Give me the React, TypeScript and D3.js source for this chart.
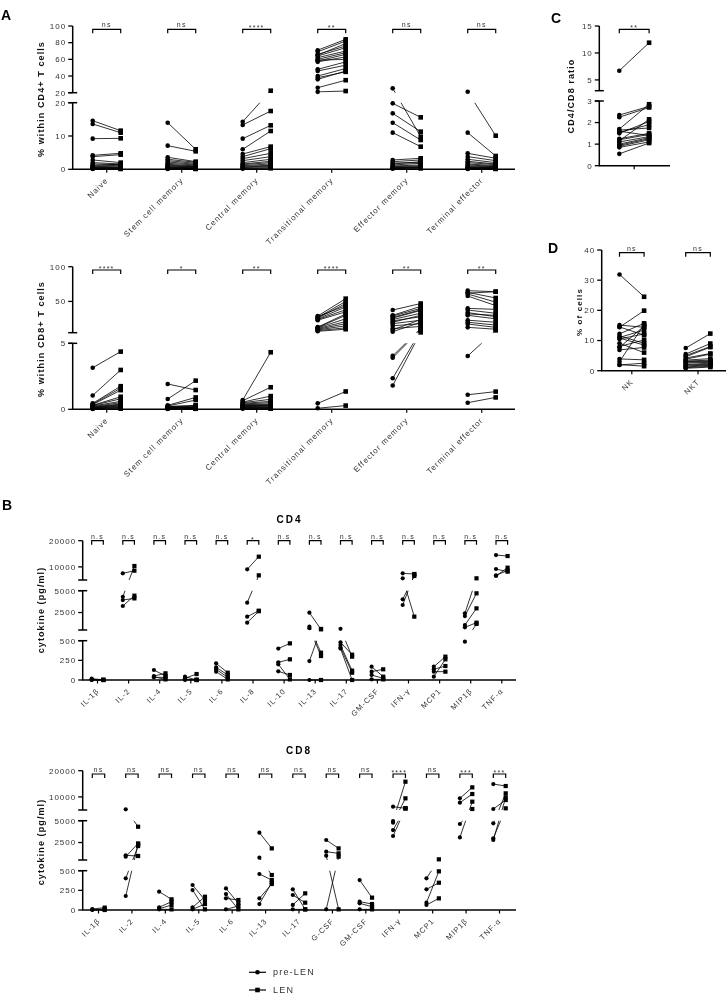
import React from 'react';
import * as d3 from 'd3';

const FONT = '"Liberation Sans", Arial, sans-serif';

// ---------- panel A : T cell subsets ----------
const subsets = ['Naive', 'Stem cell memory', 'Central memory', 'Transitional memory', 'Effector memory', 'Terminal effector'];
const cd4Sig = ['ns', 'ns', '****', '**', 'ns', 'ns'];
const cd8Sig = ['****', '*', '**', '****', '**', '**'];

const cd4Pre = [
  [14.6, 13.6, 9.2, 4.2, 3.8, 2.8, 2.0, 1.6, 1.2, 1.0, 0.8, 0.6, 0.5, 0.4, 0.3, 0.2, 0.1],
  [14.0, 7.1, 3.6, 3.0, 2.6, 2.2, 1.8, 1.5, 1.2, 1.0, 0.8, 0.6, 0.5, 0.4, 0.3, 0.2, 0.1],
  [14.3, 13.3, 9.2, 6.0, 4.6, 3.8, 3.2, 2.6, 2.0, 1.6, 1.4, 1.1, 0.9, 0.7, 0.5, 0.3, 0.2],
  [71, 69, 66, 64, 62, 60, 59, 57, 48, 46, 40, 38, 36, 26, 21, 58, 65],
  [25.2, 19.8, 16.8, 14.0, 11.0, 2.8, 2.3, 1.9, 1.6, 1.3, 1.0, 0.8, 0.6, 0.5, 0.4, 0.3, 0.2],
  [21.2, 11.0, 4.8, 3.8, 3.0, 2.4, 2.0, 1.6, 1.3, 1.0, 0.8, 0.6, 0.5, 0.4, 0.3, 0.2, 0.1],
];
const cd4Post = [
  [11.6, 11.0, 9.3, 4.8, 4.4, 2.0, 1.6, 1.4, 1.5, 1.2, 0.9, 0.6, 0.5, 0.4, 0.3, 0.2, 0.1],
  [6.0, 5.4, 2.3, 2.1, 1.8, 1.5, 1.3, 1.0, 0.9, 0.8, 0.7, 0.5, 0.4, 0.3, 0.3, 0.2, 0.1],
  [22.4, 17.5, 13.2, 11.5, 6.8, 6.2, 4.8, 3.8, 3.0, 2.4, 2.0, 1.6, 1.2, 1.0, 0.8, 0.5, 0.3],
  [84, 82, 76, 74, 70, 68, 60, 63, 57, 53, 49, 45, 46, 35, 22, 66, 79],
  [9.8, 15.6, 11.3, 8.8, 6.8, 3.3, 2.8, 2.0, 2.3, 1.8, 1.3, 1.0, 0.8, 0.6, 0.5, 0.4, 0.3],
  [10.1, 4.0, 3.3, 2.6, 2.0, 1.6, 1.4, 1.1, 0.9, 0.8, 0.6, 0.5, 0.4, 0.3, 0.2, 0.2, 0.1],
];
const cd8Pre = [
  [3.15, 1.05, 0.45, 0.4, 0.35, 0.3, 0.28, 0.25, 0.2, 0.18, 0.15, 0.12, 0.1, 0.08, 0.06, 0.05, 0.03],
  [1.92, 0.78, 0.3, 0.25, 0.22, 0.2, 0.18, 0.15, 0.12, 0.1, 0.1, 0.08, 0.07, 0.06, 0.05, 0.04, 0.03],
  [0.7, 0.65, 0.55, 0.5, 0.45, 0.4, 0.35, 0.3, 0.28, 0.25, 0.2, 0.18, 0.15, 0.12, 0.1, 0.08, 0.05],
  [29, 27, 26, 25, 24, 23, 13, 12.5, 12, 11, 10, 9, 8, 7, 0.45, 0.08, 28],
  [37.6, 30, 29, 26, 24, 22, 20, 18, 15, 11, 9, 6.5, 4.05, 3.9, 2.35, 1.8, 27],
  [65.5, 63, 60.7, 57.8, 40, 37.6, 34, 32, 30, 23, 20, 17.5, 12.7, 4.04, 1.1, 0.5, 62],
];
const cd8Post = [
  [4.37, 2.98, 1.75, 1.6, 1.45, 0.95, 0.8, 0.6, 0.5, 0.4, 0.35, 0.3, 0.25, 0.2, 0.15, 0.1, 0.05],
  [1.46, 2.17, 0.9, 0.7, 0.3, 0.25, 0.2, 0.18, 0.15, 0.12, 0.1, 0.1, 0.08, 0.07, 0.06, 0.05, 0.04],
  [4.32, 1.67, 1.0, 0.76, 0.6, 0.5, 0.4, 0.35, 0.3, 0.28, 0.25, 0.2, 0.15, 0.12, 0.1, 0.08, 0.05],
  [54, 50, 47, 42, 38, 35, 32, 30, 25, 21, 18, 15, 12, 10, 1.35, 0.28, 44],
  [47, 43, 40, 37, 33, 28, 30, 23, 18, 14, 24, 20, 11, 9.5, 8, 5.5, 38],
  [64, 55, 49, 44, 38.6, 33, 28, 30, 25, 20, 16, 12.7, 10, 8.4, 1.34, 0.9, 64],
];

// ---------- panel C : CD4/CD8 ratio ----------
const ratioPre = [[6.7, 2.35, 2.25, 1.7, 1.65, 1.55, 1.5, 1.25, 1.2, 1.15, 1.1, 1.0, 0.95, 0.9, 0.85, 0.55, 1.6]];
const ratioPost = [[11.9, 2.75, 2.7, 2.85, 1.75, 1.9, 2.05, 1.5, 1.45, 2.15, 1.35, 1.3, 1.25, 1.2, 1.1, 1.05, 1.4]];

// ---------- panel D : NK / NKT ----------
const nkCats = ['NK', 'NKT'];
const nkPre = [
  [31.9, 15.1, 14.4, 12.2, 11.5, 11.0, 10.5, 9.1, 8.0, 7.7, 6.9, 3.9, 3.0, 2.0, 1.9, 14.5, 10.8],
  [7.5, 5.5, 5.0, 4.6, 4.2, 3.8, 3.5, 3.2, 3.0, 2.8, 2.5, 2.0, 1.8, 1.5, 1.2, 1.0, 0.8],
];
const nkPost = [
  [24.5, 14.4, 19.9, 15.7, 9.1, 13.5, 12.2, 6.0, 10.2, 14.8, 7.7, 3.6, 15.3, 1.5, 2.5, 11.8, 8.5],
  [12.3, 9.0, 8.0, 7.8, 5.7, 5.5, 4.0, 3.5, 3.2, 3.0, 2.8, 2.5, 2.2, 2.0, 1.8, 1.5, 1.2],
];

// ---------- panel B : cytokines ----------
const cd4Cyto = ['IL-1β', 'IL-2', 'IL-4', 'IL-5', 'IL-6', 'IL-8', 'IL-10', 'IL-13', 'IL-17', 'GM-CSF', 'IFN-γ', 'MCP1', 'MIP1β', 'TNF-α'];
const cd4CytoSig = ['n.s', 'n.s', 'n.s', 'n.s', 'n.s', '*', 'n.s', 'n.s', 'n.s', 'n.s', 'n.s', 'n.s', 'n.s', 'n.s'];
const cd4CytoPre = [
  [17, 5, 2, 0], [7540, 4310, 3930, 3250], [127, 51, 34, 40], [42, 21, 8, 0], [212, 161, 136, 106],
  [9070, 3630, 2030, 1340], [400, 225, 200, 110], [2480, 880, 700, 241, 0], [631, 480, 445, 415, 400],
  [169, 106, 64, 8], [7540, 5640, 4010, 3360], [169, 136, 106, 42], [2410, 2100, 1070, 805, 487],
  [14530, 9190, 6530, 6800],
];
const cd4CytoPost = [
  [3, 0, 2, 0], [8560, 10340, 4120, 4430], [51, 85, 34, 8], [0, 76, 5, 0], [93, 64, 34, 8],
  [13900, 6780, 2710, 2650], [466, 263, 8, 64], [580, 347, 305, 620, 0], [297, 322, 119, 93, 0],
  [42, 136, 21, 8], [7290, 2030, 6530, 7100], [297, 178, 106, 263], [5640, 4700, 2980, 1340, 1200],
  [14150, 8180, 9700, 8600],
];

const cd8Cyto = ['IL-1β', 'IL-2', 'IL-4', 'IL-5', 'IL-6', 'IL-13', 'IL-17', 'G-CSF', 'GM-CSF', 'IFN-γ', 'MCP1', 'MIP1β', 'TNF-α'];
const cd8CytoSig = ['ns', 'ns', 'ns', 'ns', 'ns', 'ns', 'ns', 'ns', 'ns', '****', 'ns', '***', '***'];
const cd8CytoPre = [
  [12, 5, 0], [5250, 1030, 880, 403, 178], [233, 34, 15, 8], [318, 254, 34, 8], [275, 203, 148, 8],
  [3630, 767, 458, 148, 76], [263, 191, 64, 8], [2790, 1450, 1000, 8], [381, 106, 85, 8],
  [6270, 4960, 4770, 3930, 3250], [403, 263, 93, 64], [9450, 7800, 4620, 3090],
  [14900, 5380, 4700, 2980, 2790],
];
const cd8CytoPost = [
  [30, 10, 0], [4310, 960, 2400, 2100, 2300], [136, 106, 64, 8], [127, 8, 169, 76], [85, 8, 127, 51],
  [1830, 445, 381, 331, 350], [8, 93, 212, 8], [1830, 1260, 8, 880], [157, 76, 42, 8],
  [5640, 15800, 9450, 5700, 5600], [576, 347, 492, 148], [13640, 11100, 5380, 8180],
  [14150, 8810, 11360, 5640, 9800],
];

type Seg = { domain: [number, number]; range: [number, number]; ticks: number[] };

type PanelCfg = {
  id: string;
  segs: Seg[];
  axisX: number;
  axisEnd: number;
  cats: string[];
  catRange: [number, number];
  off: number;
  pre: number[][];
  post: number[][];
  sig: string[];
  bracketY: number;
  yLabel: string;
  yLabelX: number;
  yLabelY: number;
  yLabelFont: number;
  labelFont: number;
  showCatLabels: boolean;
  r: number;
  sq: number;
};

const cytoSegs = (top: number): Seg[] => [
  { domain: [0, 500], range: [top + 139.3, top + 100], ticks: [0, 250, 500] },
  { domain: [500, 5000], range: [top + 89.3, top + 50], ticks: [2500, 5000] },
  { domain: [5000, 20000], range: [top + 39.3, top], ticks: [10000, 20000] },
];

function Panel({ c }: { c: PanelCfg }) {
  const scales = c.segs.map(s => d3.scaleLinear().domain(s.domain).range(s.range));
  const y = (v: number) => {
    for (let i = 0; i < c.segs.length; i++) {
      if (v <= c.segs[i].domain[1] || i === c.segs.length - 1) return scales[i](v);
    }
    return 0;
  };
  const x = d3.scalePoint<string>().domain(c.cats).range(c.catRange);
  const axisY = c.segs[0].range[0];
  const n = c.segs.length;
  const tickFmt = d3.format('d');

  return (
    <g>
      <defs>
        <clipPath id={'clip-' + c.id}>
          {c.segs.map((s, i) => {
            const top = s.range[1] - (i === n - 1 ? 6 : 0);
            const bot = s.range[0] + (i === 0 ? 6 : 0);
            return <rect key={i} x={c.axisX} y={top} width={c.axisEnd - c.axisX} height={bot - top} />;
          })}
        </clipPath>
      </defs>

      {/* y axis segments */}
      {c.segs.map((s, i) => (
        <g key={'s' + i}>
          <line x1={c.axisX} x2={c.axisX} y1={s.range[0]} y2={s.range[1]} stroke="#000" strokeWidth={1.5} />
          {i > 0 && <line x1={c.axisX - 4.5} x2={c.axisX + 4.5} y1={s.range[0]} y2={s.range[0]} stroke="#000" strokeWidth={1.5} />}
          {i < n - 1 && <line x1={c.axisX - 4.5} x2={c.axisX + 4.5} y1={s.range[1]} y2={s.range[1]} stroke="#000" strokeWidth={1.5} />}
          {s.ticks.map(t => (
            <g key={t}>
              <line x1={c.axisX - 4.5} x2={c.axisX} y1={scales[i](t)} y2={scales[i](t)} stroke="#000" strokeWidth={1.3} />
              <text x={c.axisX - 6.5} y={scales[i](t)} dy="0.35em" textAnchor="end" fontSize={8}
                letterSpacing={1} fill="#333">{tickFmt(t)}</text>
            </g>
          ))}
        </g>
      ))}

      {/* x axis */}
      <line x1={c.axisX - 0.7} x2={c.axisEnd} y1={axisY} y2={axisY} stroke="#000" strokeWidth={1.5} />
      {c.cats.map(cat => (
        <g key={cat}>
          <line x1={x(cat)} x2={x(cat)} y1={axisY} y2={axisY + 3.5} stroke="#000" strokeWidth={1.2} />
          {c.showCatLabels && (
            <text transform={`translate(${(x(cat) as number) + 2},${axisY + 11.5}) rotate(-45)`}
              textAnchor="end" fontSize={c.labelFont} letterSpacing={1} fill="#333">{cat}</text>
          )}
        </g>
      ))}

      {/* paired lines */}
      <g clipPath={`url(#clip-${c.id})`}>
        {c.cats.map((cat, i) => c.pre[i].map((v, j) => (
          <line key={cat + j} x1={(x(cat) as number) - c.off} y1={y(v)}
            x2={(x(cat) as number) + c.off} y2={y(c.post[i][j])} stroke="#000" strokeWidth={0.8} />
        )))}
      </g>

      {/* markers */}
      {c.cats.map((cat, i) => (
        <g key={'m' + cat}>
          {c.pre[i].map((v, j) => (
            <circle key={j} cx={(x(cat) as number) - c.off} cy={y(v)} r={c.r} fill="#000" />
          ))}
          {c.post[i].map((v, j) => (
            <rect key={j} x={(x(cat) as number) + c.off - c.sq / 2} y={y(v) - c.sq / 2}
              width={c.sq} height={c.sq} fill="#000" />
          ))}
        </g>
      ))}

      {/* significance brackets */}
      {c.cats.map((cat, i) => {
        const x0 = (x(cat) as number) - c.off;
        const x1 = (x(cat) as number) + c.off;
        const star = c.sig[i].startsWith('*');
        return (
          <g key={'b' + cat}>
            <path d={`M${x0},${c.bracketY + 4}V${c.bracketY}H${x1}V${c.bracketY + 4}`} fill="none" stroke="#000" strokeWidth={1.2} />
            <text x={(x0 + x1) / 2} y={c.bracketY - (star ? -1 : 2)} textAnchor="middle" fontSize={7}
              letterSpacing={1.2} fill="#333">{c.sig[i]}</text>
          </g>
        );
      })}

      <text transform={`translate(${c.yLabelX},${c.yLabelY}) rotate(-90)`} textAnchor="middle"
        fontSize={c.yLabelFont} fontWeight="bold" letterSpacing={1.1} fill="#111">{c.yLabel}</text>
    </g>
  );
}

const panels: PanelCfg[] = [
  {
    id: 'a4', axisX: 72.7, axisEnd: 515, cats: subsets, catRange: [106.7, 481.7], off: 14,
    segs: [
      { domain: [0, 20], range: [169.3, 102.7], ticks: [0, 10, 20] },
      { domain: [20, 100], range: [92.7, 26], ticks: [20, 40, 60, 80, 100] },
    ],
    pre: cd4Pre, post: cd4Post, sig: cd4Sig, bracketY: 29.3,
    yLabel: '% within CD4+ T cells', yLabelX: 44, yLabelY: 99, yLabelFont: 9, labelFont: 8, showCatLabels: true, r: 2.3, sq: 4.6,
  },
  {
    id: 'a8', axisX: 72.7, axisEnd: 515, cats: subsets, catRange: [106.7, 481.7], off: 14,
    segs: [
      { domain: [0, 5], range: [409.3, 343.3], ticks: [0, 5] },
      { domain: [5, 100], range: [332.7, 266.7], ticks: [50, 100] },
    ],
    pre: cd8Pre, post: cd8Post, sig: cd8Sig, bracketY: 270,
    yLabel: '% within CD8+ T cells', yLabelX: 44, yLabelY: 339, yLabelFont: 9, labelFont: 8, showCatLabels: true, r: 2.3, sq: 4.6,
  },
  {
    id: 'c', axisX: 599.3, axisEnd: 670, cats: [''], catRange: [634.2, 634.2], off: 14.9,
    segs: [
      { domain: [0, 3], range: [165.7, 101], ticks: [0, 1, 2, 3] },
      { domain: [3, 15], range: [90.7, 26], ticks: [5, 10, 15] },
    ],
    pre: ratioPre, post: ratioPost, sig: ['**'], bracketY: 29.3,
    yLabel: 'CD4/CD8 ratio', yLabelX: 573.5, yLabelY: 96, yLabelFont: 9, labelFont: 8, showCatLabels: false, r: 2.3, sq: 4.6,
  },
  {
    id: 'd', axisX: 601.7, axisEnd: 726, cats: nkCats, catRange: [631.8, 698], off: 12.3,
    segs: [{ domain: [0, 40], range: [370.7, 250], ticks: [0, 10, 20, 30, 40] }],
    pre: nkPre, post: nkPost, sig: ['ns', 'ns'], bracketY: 252.7,
    yLabel: '% of cells', yLabelX: 582, yLabelY: 312, yLabelFont: 8, labelFont: 7.5, showCatLabels: true, r: 2.3, sq: 4.6,
  },
  {
    id: 'b4', axisX: 82.7, axisEnd: 516, cats: cd4Cyto, catRange: [97.5, 501.8], off: 5.8,
    segs: cytoSegs(540.7),
    pre: cd4CytoPre, post: cd4CytoPost, sig: cd4CytoSig, bracketY: 540.7,
    yLabel: 'cytokine (pg/ml)', yLabelX: 44, yLabelY: 610, yLabelFont: 9, labelFont: 7.5, showCatLabels: true, r: 2.1, sq: 4.2,
  },
  {
    id: 'b8', axisX: 82.7, axisEnd: 516, cats: cd8Cyto, catRange: [98.5, 499.5], off: 6.2,
    segs: cytoSegs(770.7),
    pre: cd8CytoPre, post: cd8CytoPost, sig: cd8CytoSig, bracketY: 774,
    yLabel: 'cytokine (pg/ml)', yLabelX: 44, yLabelY: 842, yLabelFont: 9, labelFont: 7.5, showCatLabels: true, r: 2.1, sq: 4.2,
  },
];

export default function App() {
  return (
    <svg width={728} height={994}
      style={{ position: 'absolute', left: 0, top: 0, fontFamily: FONT, background: '#fff', filter: 'grayscale(1)' }}>
      <rect width={728} height={994} fill="#fff" />
      {panels.map(p => <Panel key={p.id} c={p} />)}

      <text x={1} y={20} fontSize={14} fontWeight="bold">A</text>
      <text x={2} y={510} fontSize={14} fontWeight="bold">B</text>
      <text x={551} y={23} fontSize={14} fontWeight="bold">C</text>
      <text x={548} y={253} fontSize={14} fontWeight="bold">D</text>

      <text x={289.5} y={523.3} textAnchor="middle" fontSize={10} fontWeight="bold" letterSpacing={2}>CD4</text>
      <text x={299} y={754} textAnchor="middle" fontSize={10} fontWeight="bold" letterSpacing={2}>CD8</text>

      {/* legend */}
      <g>
        <line x1={249} x2={266} y1={972.3} y2={972.3} stroke="#000" strokeWidth={1.2} />
        <circle cx={257.5} cy={972.3} r={2.3} fill="#000" />
        <text x={273} y={972.3} dy="0.35em" fontSize={9} letterSpacing={1.2} fill="#333">pre-LEN</text>
        <line x1={249} x2={266} y1={990} y2={990} stroke="#000" strokeWidth={1.2} />
        <rect x={255.2} y={987.7} width={4.6} height={4.6} fill="#000" />
        <text x={273} y={990} dy="0.35em" fontSize={9} letterSpacing={1.2} fill="#333">LEN</text>
      </g>
    </svg>
  );
}
